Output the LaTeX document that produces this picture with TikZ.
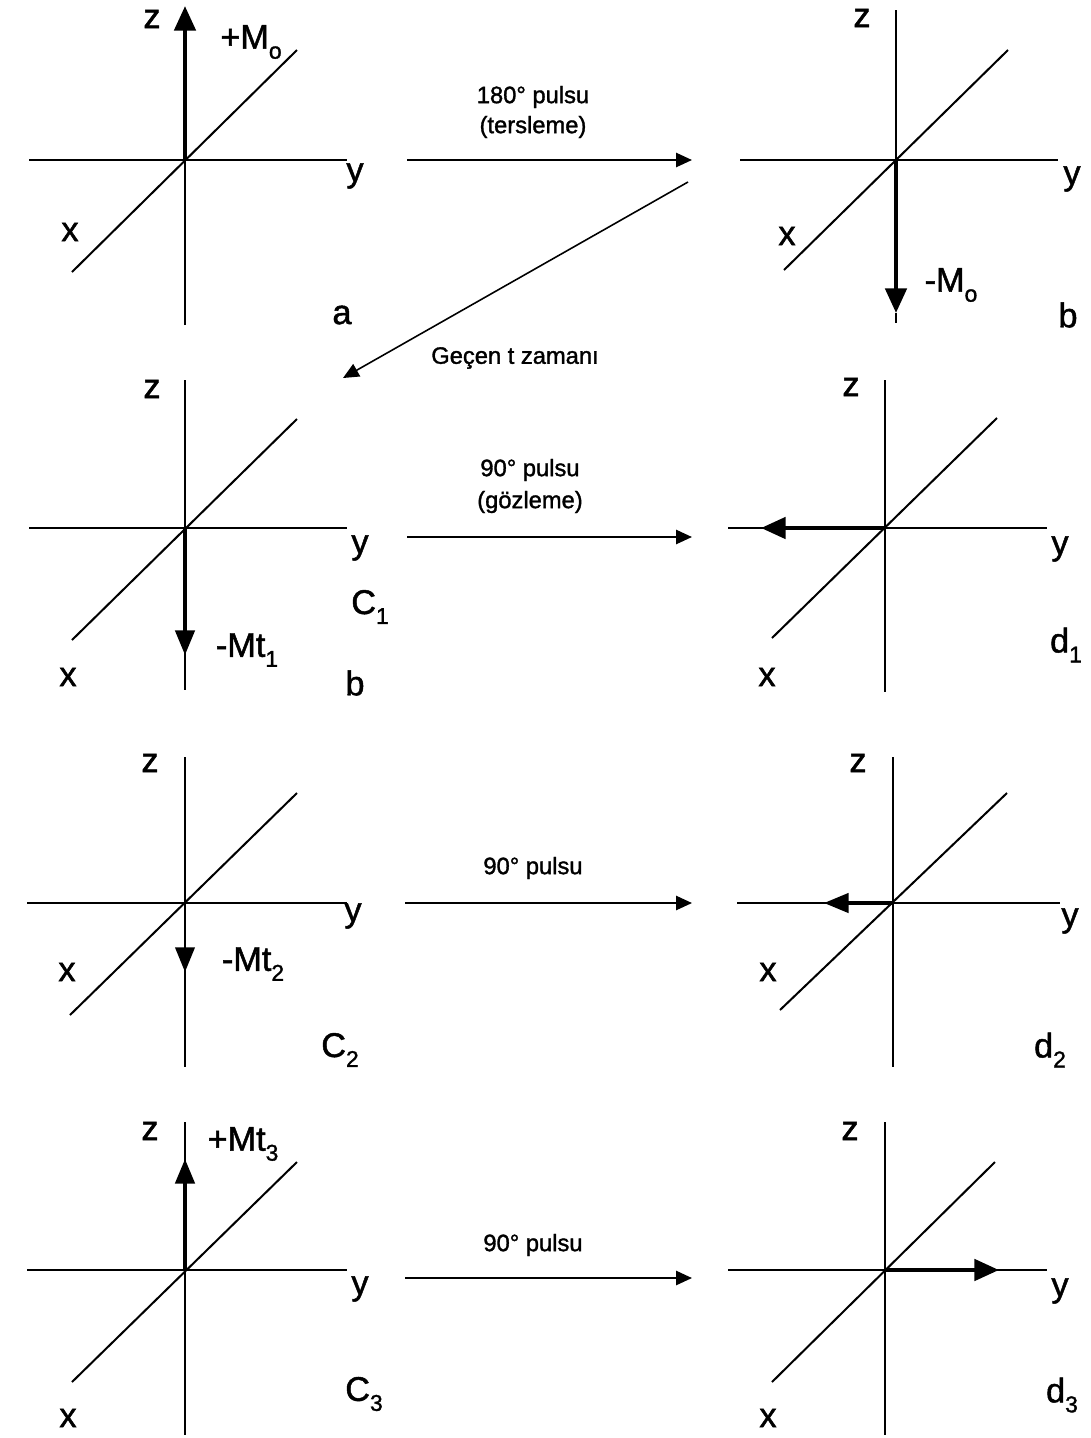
\documentclass[tikz,border=0pt]{standalone}
\usepackage{fontspec}
\setmainfont{Liberation Sans}[FakeBold=1.4]
\usetikzlibrary{arrows.meta}
\newcommand\axfont{\fontsize{19.5}{22}\selectfont}
\newcommand\txfont{\fontsize{13.5}{16}\selectfont}
\newcommand\sub[1]{\raisebox{-0.55ex}{\fontsize{13}{13}\selectfont #1}}
\begin{document}
\begin{tikzpicture}[x=0.02cm,y=-0.02cm,
  axis/.style={line width=1.15pt},
  vec/.style={line width=2.5pt,-{Triangle[length=14pt,width=12pt]}},
  vecm/.style={line width=1.9pt,-{Triangle[length=14pt,width=11pt]}},
  conn/.style={line width=1.15pt,-{Triangle[length=9pt,width=8pt]}},
  lab/.style={font=\axfont,inner sep=0pt},
  txt/.style={font=\txfont,inner sep=0pt}]
\useasboundingbox (0,0) rectangle (1091,1438);
\fill[white] (0,0) rectangle (1091,1438);

% ---------- panel a
\coordinate (aO) at (185,160);
\draw[axis] (185,325) -- (aO);
\draw[axis] (29,160) -- (347,160);
\draw[axis] (72,272) -- (297,50);
\coordinate (aT) at (185,6);
\draw[vec] (aO) -- (aT);
\node[lab] (az) at (152,19) {z};
\node[lab] (aM) at (251,42) {+M\sub{o}};
\node[lab] (ay) at (355,176) {y};
\node[lab] (ax) at (70,232) {x};
\node[lab] (al) at (342,315) {a};

% ---------- panel b
\coordinate (bO) at (896,160);
\draw[axis] (896,10) -- (bO);
\draw[axis] (740,160) -- (1058,160);
\draw[axis] (784,270) -- (1008,50);
\coordinate (bT) at (896,313);
\draw[axis] (896,313) -- (896,323);
\draw[vec] (bO) -- (bT);
\node[lab] (bz) at (862,18) {z};
\node[lab] (by) at (1072,179) {y};
\node[lab] (bx) at (787,236) {x};
\node[lab] (bM) at (951,285) {-M\sub{o}};
\node[lab] (bl) at (1068,315) {b};

% ---------- arrows between a and b, b and c1
\coordinate (p1s) at (407,160);
\coordinate (p1e) at (692,160);
\draw[conn] (p1s) -- (p1e);
\node[txt] (p1t1) at (533,97) {180° pulsu};
\node[txt] (p1t2) at (533,127) {(tersleme)};
\coordinate (p2s) at (688,182);
\coordinate (p2e) at (343,378);
\draw[conn,line width=0.9pt] (p2s) -- (p2e);
\node[txt] (p2t) at (515,358) {Geçen t zamanı};

% ---------- panel c1
\coordinate (cO) at (185,528);
\draw[axis] (185,380) -- (185,690);
\draw[axis] (29,528) -- (347,528);
\draw[axis] (72,640) -- (297,419);
\coordinate (cT) at (185,655);
\draw[vecm] (cO) -- (cT);
\node[lab] (cz) at (152,389) {z};
\node[lab] (cy) at (360,548) {y};
\node[lab] (cC) at (370,607) {C\sub{1}};
\node[lab] (cM) at (247,650) {-Mt\sub{1}};
\node[lab] (cx) at (68,677) {x};
\node[lab] (cl) at (355,683) {b};

% ---------- arrow c1 -> d1
\coordinate (p3s) at (407,537);
\coordinate (p3e) at (692,537);
\draw[conn] (p3s) -- (p3e);
\node[txt] (p3t1) at (530,470) {90° pulsu};
\node[txt] (p3t2) at (530,502) {(gözleme)};

% ---------- panel d1
\coordinate (dO) at (885,528);
\draw[axis] (885,380) -- (885,692);
\draw[axis] (728,528) -- (1047,528);
\draw[axis] (772,638) -- (997,418);
\coordinate (dT) at (761,528);
\draw[vec] (dO) -- (dT);
\node[lab] (dz) at (851,387) {z};
\node[lab] (dy) at (1060,549) {y};
\node[lab] (dd) at (1066,645) {d\sub{1}};
\node[lab] (dx) at (767,677) {x};

% ---------- panel c2
\coordinate (eO) at (185,903);
\draw[axis] (185,757) -- (185,1067);
\draw[axis] (27,903) -- (347,903);
\draw[axis] (70,1015) -- (297,793);
\coordinate (eT) at (185,972);
\draw[vecm,line width=1.5pt] (eO) -- (eT);
\node[lab] (ez) at (150,763) {z};
\node[lab] (ey) at (353,916) {y};
\node[lab] (eM) at (253,964) {-Mt\sub{2}};
\node[lab] (ex) at (67,972) {x};
\node[lab] (eC) at (340,1050) {C\sub{2}};

% ---------- arrow c2 -> d2
\coordinate (p4s) at (405,903);
\coordinate (p4e) at (692,903);
\draw[conn] (p4s) -- (p4e);
\node[txt] (p4t) at (533,868) {90° pulsu};

% ---------- panel d2
\coordinate (fO) at (893,903);
\draw[axis] (893,757) -- (893,1067);
\draw[axis] (737,903) -- (1060,903);
\draw[axis] (780,1010) -- (1007,793);
\coordinate (fT) at (824,903);
\draw[vecm] (fO) -- (fT);
\node[lab] (fz) at (858,763) {z};
\node[lab] (fy) at (1070,921) {y};
\node[lab] (fx) at (768,972) {x};
\node[lab] (fd) at (1050,1050) {d\sub{2}};

% ---------- panel c3
\coordinate (gO) at (185,1270);
\draw[axis] (185,1122) -- (185,1435);
\draw[axis] (27,1270) -- (347,1270);
\draw[axis] (72,1382) -- (297,1162);
\coordinate (gT) at (185,1159);
\draw[vecm,line width=2.1pt] (gO) -- (gT);
\node[lab] (gz) at (150,1131) {z};
\node[lab] (gM) at (243,1144) {+Mt\sub{3}};
\node[lab] (gy) at (360,1289) {y};
\node[lab] (gC) at (364,1394) {C\sub{3}};
\node[lab] (gx) at (68,1418) {x};

% ---------- arrow c3 -> d3
\coordinate (p5s) at (405,1278);
\coordinate (p5e) at (692,1278);
\draw[conn] (p5s) -- (p5e);
\node[txt] (p5t) at (533,1245) {90° pulsu};

% ---------- panel d3
\coordinate (hO) at (885,1270);
\draw[axis] (885,1122) -- (885,1435);
\draw[axis] (728,1270) -- (1047,1270);
\draw[axis] (772,1382) -- (995,1162);
\coordinate (hT) at (999,1270);
\draw[vec] (hO) -- (hT);
\node[lab] (hz) at (850,1131) {z};
\node[lab] (hy) at (1060,1291) {y};
\node[lab] (hd) at (1062,1395) {d\sub{3}};
\node[lab] (hx) at (768,1418) {x};
\end{tikzpicture}
\end{document}
